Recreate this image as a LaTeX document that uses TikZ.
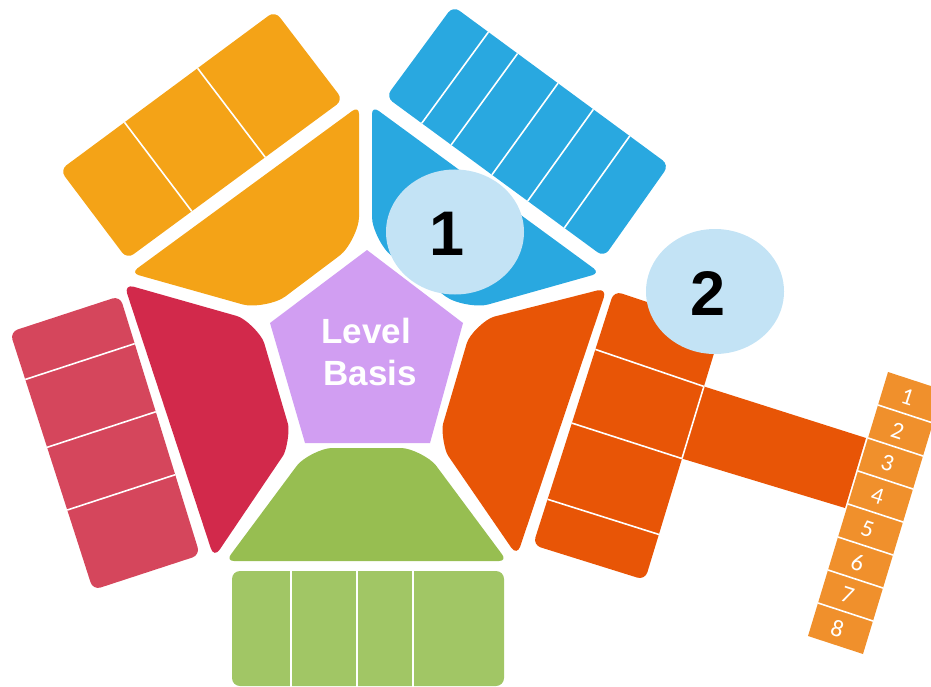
\documentclass[tikz,border=0pt]{standalone}
\usepackage{fontspec}
\setmainfont{Liberation Sans}
\newfontfamily\numfont{Carlito}
\usetikzlibrary{calc}
\definecolor{cyel}{HTML}{F4A317}
\definecolor{cblue}{HTML}{29A8E0}
\definecolor{credrect}{HTML}{D5465C}
\definecolor{credtrap}{HTML}{D2294B}
\definecolor{cpurple}{HTML}{D19EF2}
\definecolor{cgreentrap}{HTML}{97BE51}
\definecolor{cgreenrect}{HTML}{A1C665}
\definecolor{corange}{HTML}{E85506}
\definecolor{cstrip}{HTML}{F0902C}
\definecolor{cbubble}{HTML}{C3E3F5}
\tikzset{
  cellline/.style={white, line width=1.6pt},
  tile/.style={rounded corners=8pt},
  bubble/.style={fill=cbubble},
  bignum/.style={inner sep=0pt, font=\fontsize{63}{63}\selectfont\bfseries, text=black},
  basistext/.style={inner sep=0pt, anchor=base, text=white, font=\fontsize{35}{42}\selectfont\bfseries},
  stripnum/.style={inner sep=0pt, text=white, rotate=-18, font=\numfont\fontsize{24}{24}\selectfont}
}
\begin{document}
\begin{tikzpicture}[x=1pt,y=-1pt]
\useasboundingbox (0,0) rectangle (931,687);
\clip (0,0) rectangle (931,687);

% ---------- yellow group ----------
\coordinate (yL) at (60,170); \coordinate (yT) at (275,11);
\coordinate (yR) at (343,100); \coordinate (yB) at (127,259);
\fill[cyel, tile] (yL) -- (yT) -- (yR) -- (yB) -- cycle;
\foreach \f in {0.30,0.64}
  \draw[cellline] ($(yL)!\f!(yT)$) -- ($(yB)!\f!(yR)$);
\coordinate (P1) at (359,106); \coordinate (P2) at (359,241);
\coordinate (P3) at (266,311); \coordinate (P4) at (131,273);
\fill[cyel, tile] (P4) -- (P1)
  -- ($(P2)!32pt!(P1)$) .. controls ($(P2)!12.8pt!(P1)$) and ($(P2)!12.8pt!(P3)$) .. ($(P2)!32pt!(P3)$)
  -- ($(P3)!32pt!(P2)$) .. controls ($(P3)!12.8pt!(P2)$) and ($(P3)!12.8pt!(P4)$) .. ($(P3)!32pt!(P4)$)
  -- cycle;

% ---------- blue group ----------
\coordinate (bT) at (453,6); \coordinate (bR) at (669,165);
\coordinate (bB) at (604,257); \coordinate (bL) at (386,97);
\fill[cblue, tile] (bL) -- (bT) -- (bR) -- (bB) -- cycle;
\foreach \f in {0.164,0.299,0.486,0.65,0.818}
  \draw[cellline] ($(bT)!\f!(bR)$) -- ($(bL)!\f!(bB)$);
\coordinate (Q1) at (372,106); \coordinate (Q2) at (372,241);
\coordinate (Q3) at (465,311); \coordinate (Q4) at (600,273);
\fill[cblue, tile] (Q4) -- (Q1)
  -- ($(Q2)!32pt!(Q1)$) .. controls ($(Q2)!12.8pt!(Q1)$) and ($(Q2)!12.8pt!(Q3)$) .. ($(Q2)!32pt!(Q3)$)
  -- ($(Q3)!32pt!(Q2)$) .. controls ($(Q3)!12.8pt!(Q2)$) and ($(Q3)!12.8pt!(Q4)$) .. ($(Q3)!32pt!(Q4)$)
  -- cycle;

% ---------- red group ----------
\coordinate (rTL) at (10,332); \coordinate (rTR) at (120,296);
\coordinate (rBR) at (200,555); \coordinate (rBL) at (93,590);
\fill[credrect, tile] (rTL) -- (rTR) -- (rBR) -- (rBL) -- cycle;
\foreach \f in {0.184,0.447,0.69}
  \draw[cellline] ($(rTL)!\f!(rBL)$) -- ($(rTR)!\f!(rBR)$);
\coordinate (R1) at (124,284); \coordinate (R2) at (258,322);
\coordinate (R3) at (293,441); \coordinate (R4) at (214,558);
\fill[credtrap, rounded corners=10pt] (R4) -- (R1)
  -- ($(R2)!32pt!(R1)$) .. controls ($(R2)!12.8pt!(R1)$) and ($(R2)!12.8pt!(R3)$) .. ($(R2)!32pt!(R3)$)
  -- ($(R3)!28pt!(R2)$) .. controls ($(R3)!11.2pt!(R2)$) and ($(R3)!11.2pt!(R4)$) .. ($(R3)!28pt!(R4)$)
  -- cycle;

% ---------- green group ----------
\fill[cgreenrect, tile] (232,571) rectangle (504,686);
\foreach \x in {291,357,413}
  \draw[cellline] (\x,571) -- (\x,687);
\coordinate (G1) at (226,561); \coordinate (G2) at (310,448);
\coordinate (G3) at (423,448); \coordinate (G4) at (507,561);
\fill[cgreentrap, tile] (G1)
  -- ($(G2)!30pt!(G1)$) .. controls ($(G2)!12pt!(G1)$) and ($(G2)!12pt!(G3)$) .. ($(G2)!30pt!(G3)$)
  -- ($(G3)!30pt!(G2)$) .. controls ($(G3)!12pt!(G2)$) and ($(G3)!12pt!(G4)$) .. ($(G3)!30pt!(G4)$)
  -- (G4) -- cycle;

% ---------- orange group ----------
\coordinate (oTL) at (614,291); \coordinate (oTR) at (722,327);
\coordinate (oBR) at (645,580); \coordinate (oBL) at (533,545);
\fill[corange, tile] (oTL) -- (oTR) -- (oBR) -- (oBL) -- cycle;
\coordinate (oE1) at ($(oTR)!0.235!(oBR)$);
\coordinate (oE2) at ($(oTR)!0.52!(oBR)$);
\coordinate (oE3) at (866,438); \coordinate (oE4) at (845,508);
\fill[corange] (oE1) -- (oE3) -- (oE4) -- (oE2) -- cycle;
\draw[cellline] (oE1) -- (oE2);
\foreach \f/\g in {0.23/0.235,0.52/0.52,0.82/0.82}
  \draw[cellline] ($(oTL)!\f!(oBL)$) -- ($(oTR)!\g!(oBR)$);
\coordinate (O1) at (607,288); \coordinate (O2) at (473,322);
\coordinate (O3) at (438,441); \coordinate (O4) at (517,556);
\fill[corange, rounded corners=10pt] (O4) -- (O1)
  -- ($(O2)!32pt!(O1)$) .. controls ($(O2)!12.8pt!(O1)$) and ($(O2)!12.8pt!(O3)$) .. ($(O2)!32pt!(O3)$)
  -- ($(O3)!28pt!(O2)$) .. controls ($(O3)!11.2pt!(O2)$) and ($(O3)!11.2pt!(O4)$) .. ($(O3)!28pt!(O4)$)
  -- cycle;

% ---------- numbered strip ----------
\coordinate (sTL) at (888,372); \coordinate (sTR) at (943,390);
\coordinate (sBR) at (863,654); \coordinate (sBL) at (808,636);
\fill[cstrip] (sTL) -- (sTR) -- (sBR) -- (sBL) -- cycle;
\foreach \k in {1,...,7}
  \draw[cellline] ($(sTL)!\k/8!(sBL)$) -- ($(sTR)!\k/8!(sBR)$);
\foreach \k in {1,...,8}
  \node[stripnum] (d\k) at ($(sTL)!{(\k-0.5)/8}!(sBL) + (24.5,9)$) {\k};

% ---------- pentagon ----------
\fill[cpurple] (367,250) -- (463,323) -- (430,443) -- (305,443) -- (270,323) -- cycle;
\node[basistext] (lvl) at (366,343) {Level};
\node[basistext] (bas) at (370,385) {Basis};

% ---------- bubbles ----------
\fill[bubble] (455,232) ellipse [x radius=69, y radius=62.5];
\fill[bubble] (715,291.5) ellipse [x radius=69, y radius=62.5];
\node[bignum] (n1) at (447,234) {1};
\node[bignum] (n2) at (708,293.5) {2};
\end{tikzpicture}
\end{document}
